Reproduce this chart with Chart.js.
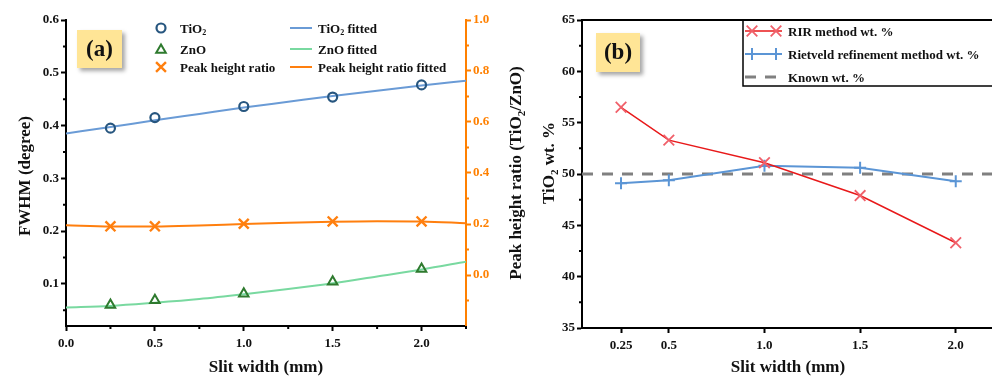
<!DOCTYPE html>
<html><head><meta charset="utf-8">
<script src="https://cdn.jsdelivr.net/npm/chart.js@4.4.0/dist/chart.umd.min.js"></script>
<style>
html,body{margin:0;padding:0;background:#fff;width:992px;height:376px;overflow:hidden;position:relative}
canvas{position:absolute;top:0}
#ca{left:0}
#cb{left:530px}
</style></head><body>
<canvas id="ca" width="530" height="376"></canvas>
<canvas id="cb" width="480" height="376"></canvas>
<script>
// ---------- data: panel (a) ----------
const slitWidth = [0.25, 0.5, 1.0, 1.5, 2.0];
const tio2Fwhm = [0.395, 0.415, 0.436, 0.454, 0.477];
const znoFwhm = [0.060, 0.069, 0.081, 0.104, 0.128];
const peakRatio = [0.191, 0.191, 0.201, 0.210, 0.210];
const fitSlit = [0, 0.25, 0.5, 0.75, 1.0, 1.25, 1.5, 1.75, 2.0, 2.25];
const tio2Fit = [0.385, 0.397, 0.410, 0.422, 0.434, 0.445, 0.456, 0.466, 0.476, 0.485];
const znoFit = [0.055, 0.058, 0.064, 0.071, 0.080, 0.090, 0.101, 0.114, 0.127, 0.142];
const ratioFit = [0.195, 0.190, 0.190, 0.194, 0.200, 0.205, 0.209, 0.211, 0.210, 0.203];
const aXTicks = [0, 0.5, 1.0, 1.5, 2.0];
const aXMinor = [0.25, 0.75, 1.25, 1.75, 2.25];
const aYTicks = [0.1, 0.2, 0.3, 0.4, 0.5, 0.6];
const aYMinor = [0.05, 0.15, 0.25, 0.35, 0.45, 0.55];
const aY2Ticks = [0.0, 0.2, 0.4, 0.6, 0.8, 1.0];
const aY2Minor = [-0.1, 0.1, 0.3, 0.5, 0.7, 0.9];

// ---------- data: panel (b) ----------
const bSlit = [0.25, 0.5, 1.0, 1.5, 2.0];
const rirWt = [56.5, 53.3, 51.1, 47.9, 43.3];
const rietveldWt = [49.1, 49.4, 50.8, 50.6, 49.3];
const knownWt = 50;
const bXRange = [0.046, 2.2];
const bXTicks = [0.25, 0.5, 1.0, 1.5, 2.0];
const bXLabels = ['0.25', '0.5', '1.0', '1.5', '2.0'];
const bYTicks = [35, 40, 45, 50, 55, 60, 65];
const bYMinor = [37.5, 42.5, 47.5, 52.5, 57.5, 62.5];

const FONT = "'Liberation Serif', 'Times New Roman', serif";
const ORANGE = '#ff7f0e';
const AXIS_ORANGE = '#ff8000';

const pts = (xs, ys) => xs.map((x, i) => ({x, y: ys[i]}));

function richParts(str){
  const parts=[]; const re=/\{([^}]*)\}/g; let last=0, m;
  while((m=re.exec(str))){ if(m.index>last) parts.push({t:str.slice(last,m.index),sub:false}); parts.push({t:m[1],sub:true}); last=re.lastIndex; }
  if(last<str.length) parts.push({t:str.slice(last),sub:false});
  return parts;
}
function drawRich(ctx, str, x, y, size, color, align){
  const parts = richParts(str);
  const fBig = `bold ${size}px ${FONT}`, fSub = `bold ${Math.round(size*0.65)}px ${FONT}`;
  let w=0; parts.forEach(p=>{ctx.font=p.sub?fSub:fBig; p.w=ctx.measureText(p.t).width; w+=p.w;});
  let cx = align==='center' ? x-w/2 : x;
  ctx.fillStyle=color; ctx.textBaseline='alphabetic'; ctx.textAlign='left';
  parts.forEach(p=>{ctx.font=p.sub?fSub:fBig; ctx.fillText(p.t, cx, y + (p.sub? size*0.22:0)); cx+=p.w;});
}
function drawRotRich(ctx, str, x, y, size, color){
  ctx.save(); ctx.translate(x,y); ctx.rotate(-Math.PI/2);
  drawRich(ctx, str, 0, size*0.35, size, color, 'center'); ctx.restore();
}
function marker(ctx, style, x, y, r, color, lw){
  ctx.save(); ctx.strokeStyle=color; ctx.lineWidth=lw; ctx.beginPath();
  if(style==='circle'){ ctx.arc(x,y,r,0,Math.PI*2); }
  else if(style==='triangle'){ ctx.moveTo(x,y-r); ctx.lineTo(x+r*0.87,y+r*0.5); ctx.lineTo(x-r*0.87,y+r*0.5); ctx.closePath(); }
  else if(style==='crossRot'){ const d=r*0.707; ctx.moveTo(x-d,y-d); ctx.lineTo(x+d,y+d); ctx.moveTo(x+d,y-d); ctx.lineTo(x-d,y+d); }
  else if(style==='cross'){ ctx.moveTo(x-r,y); ctx.lineTo(x+r,y); ctx.moveTo(x,y-r); ctx.lineTo(x,y+r); }
  ctx.stroke(); ctx.restore();
}
function labelBox(ctx, x, y, w, h, text){
  ctx.save();
  ctx.shadowColor='rgba(0,0,0,0.35)'; ctx.shadowBlur=4; ctx.shadowOffsetX=3; ctx.shadowOffsetY=3;
  ctx.fillStyle='#ffe596'; ctx.fillRect(x,y,w,h); ctx.restore();
  ctx.save(); ctx.fillStyle='#111'; ctx.font=`bold 23px ${FONT}`; ctx.textAlign='center'; ctx.textBaseline='middle';
  ctx.fillText(text, x+w/2, y+h/2+1); ctx.restore();
}

const minorTicks = {
  id:'minorTicks',
  afterDraw(chart, args, opts){
    const ctx=chart.ctx, ca=chart.chartArea;
    (opts.list||[]).forEach(item=>{
      const s=chart.scales[item.id];
      ctx.save(); ctx.strokeStyle=item.color; ctx.lineWidth=2; ctx.beginPath();
      item.values.forEach(v=>{
        const p=s.getPixelForValue(v);
        if(s.position==='bottom'){ ctx.moveTo(p,ca.bottom); ctx.lineTo(p,ca.bottom+3); }
        else if(s.position==='left'){ ctx.moveTo(ca.left,p); ctx.lineTo(ca.left-3,p); }
        else { ctx.moveTo(ca.right,p); ctx.lineTo(ca.right+3,p); }
      });
      ctx.stroke(); ctx.restore();
    });
  }
};

const tickFont = {family: FONT, weight: 'bold', size: 13};
const setTicks = arr => (s => { s.ticks = arr.map(v => ({value: v})); });
const gridOpts = color => ({display:true, drawOnChartArea:false, drawTicks:true, tickLength:5, tickWidth:2, tickColor:color, color:color});

// ---------------- Chart (a) ----------------
const decorA = {
  id:'decorA',
  afterDraw(chart){
    const ctx=chart.ctx;
    labelBox(ctx, 77, 30, 45, 38, '(a)');
    const rows=[28, 49, 67];
    const c1=[['circle','#27567f','TiO{2}',4.5,2.2],['triangle','#2e7a2e','ZnO',5.5,2],['crossRot',ORANGE,'Peak height ratio',7,2.4]];
    c1.forEach((e,i)=>{ marker(ctx,e[0],161,rows[i]+(e[0]==='triangle'?1:0),e[3],e[1],e[4]); drawRich(ctx,e[2],180,rows[i]+4.5,13,'#111','left'); });
    const c2=[['#6a9bd6','TiO{2} fitted'],['#79d9a0','ZnO fitted'],[ORANGE,'Peak height ratio fitted']];
    c2.forEach((e,i)=>{ ctx.save(); ctx.strokeStyle=e[0]; ctx.lineWidth=2; ctx.beginPath(); ctx.moveTo(290,rows[i]); ctx.lineTo(312,rows[i]); ctx.stroke(); ctx.restore(); drawRich(ctx,e[1],318,rows[i]+4.5,13,'#111','left'); });
    drawRotRich(ctx,'FWHM (degree)',24,176,17,'#111');
    drawRotRich(ctx,'Peak height ratio (TiO{2}/ZnO)',515,173,17,'#111');
    drawRich(ctx,'Slit width (mm)',266,372,17,'#111','center');
  }
};

new Chart(document.getElementById('ca'), {
  type:'line',
  data:{datasets:[
    {label:'TiO2', data:pts(slitWidth,tio2Fwhm), yAxisID:'y', showLine:false, pointStyle:'circle', pointRadius:4.5, borderColor:'#27567f', backgroundColor:'rgba(0,0,0,0)', pointBorderWidth:2.2},
    {label:'ZnO', data:pts(slitWidth,znoFwhm), yAxisID:'y', showLine:false, pointStyle:'triangle', pointRadius:5.5, borderColor:'#2e7a2e', backgroundColor:'rgba(0,0,0,0)', pointBorderWidth:2},
    {label:'Peak height ratio', data:pts(slitWidth,peakRatio), yAxisID:'y2', showLine:false, pointStyle:'crossRot', pointRadius:7, borderColor:ORANGE, pointBorderWidth:2.4},
    {label:'TiO2 fitted', data:pts(fitSlit,tio2Fit), yAxisID:'y', borderColor:'#6a9bd6', borderWidth:2, pointRadius:0, cubicInterpolationMode:'monotone', order:5},
    {label:'ZnO fitted', data:pts(fitSlit,znoFit), yAxisID:'y', borderColor:'#79d9a0', borderWidth:2, pointRadius:0, cubicInterpolationMode:'monotone', order:5},
    {label:'Peak height ratio fitted', data:pts(fitSlit,ratioFit), yAxisID:'y2', borderColor:ORANGE, borderWidth:2, pointRadius:0, cubicInterpolationMode:'monotone', order:5}
  ]},
  options:{
    responsive:false, animation:false, devicePixelRatio:1,
    layout:{padding:{top:20,left:0,right:0,bottom:0}},
    plugins:{legend:{display:false}, tooltip:{enabled:false},
      minorTicks:{list:[{id:'x',values:aXMinor,color:'#000'},{id:'y',values:aYMinor,color:'#000'},{id:'y2',values:aY2Minor,color:AXIS_ORANGE}]}},
    scales:{
      x:{type:'linear', min:0, max:2.25, afterBuildTicks:setTicks(aXTicks), afterFit:s=>{s.height=50;},
         grid:gridOpts('#000'), border:{display:true,color:'#000',width:2},
         ticks:{font:tickFont,color:'#111',padding:5,autoSkip:false,maxRotation:0,callback:v=>Number(v).toFixed(1)}},
      y:{type:'linear', position:'left', min:0.02, max:0.6, afterBuildTicks:setTicks(aYTicks), afterFit:s=>{s.width=66;},
         grid:gridOpts('#000'), border:{display:true,color:'#000',width:2},
         ticks:{font:tickFont,color:'#111',padding:2,autoSkip:false,callback:v=>Number(v).toFixed(1)}},
      y2:{type:'linear', position:'right', min:-0.2, max:1.0, afterBuildTicks:setTicks(aY2Ticks), afterFit:s=>{s.width=64;},
         grid:gridOpts(AXIS_ORANGE), border:{display:true,color:AXIS_ORANGE,width:2},
         ticks:{font:tickFont,color:AXIS_ORANGE,padding:2,autoSkip:false,callback:v=>Number(v).toFixed(1)}}
    }
  },
  plugins:[minorTicks, decorA]
});

// ---------------- Chart (b) ----------------
const decorB = {
  id:'decorB',
  afterDraw(chart){
    const ctx=chart.ctx, ca=chart.chartArea;
    ctx.save(); ctx.strokeStyle='#000'; ctx.lineWidth=2; ctx.beginPath(); ctx.moveTo(ca.left,ca.top); ctx.lineTo(chart.width,ca.top); ctx.stroke(); ctx.restore();
    labelBox(ctx, 66, 33, 44, 39, '(b)');
    ctx.save(); ctx.strokeStyle='#000'; ctx.lineWidth=1.5; ctx.strokeRect(213, ca.top, 300, 66); ctx.restore();
    const rows=[31,54,77];
    ctx.save(); ctx.strokeStyle='#e8191a'; ctx.lineWidth=1.5; ctx.beginPath(); ctx.moveTo(215,rows[0]); ctx.lineTo(252,rows[0]); ctx.stroke(); ctx.restore();
    marker(ctx,'crossRot',222,rows[0],7.5,'#f0606a',1.8); marker(ctx,'crossRot',246,rows[0],7.5,'#f0606a',1.8);
    drawRich(ctx,'RIR method wt. %',258,rows[0]+4.5,13,'#111','left');
    ctx.save(); ctx.strokeStyle='#5b95d5'; ctx.lineWidth=2; ctx.beginPath(); ctx.moveTo(215,rows[1]); ctx.lineTo(252,rows[1]); ctx.stroke(); ctx.restore();
    marker(ctx,'cross',222,rows[1],6,'#5b95d5',2); marker(ctx,'cross',246,rows[1],6,'#5b95d5',2);
    drawRich(ctx,'Rietveld refinement method wt. %',258,rows[1]+4.5,13,'#111','left');
    ctx.save(); ctx.strokeStyle='#808080'; ctx.lineWidth=3; ctx.setLineDash([11,9]); ctx.beginPath(); ctx.moveTo(215,rows[2]); ctx.lineTo(252,rows[2]); ctx.stroke(); ctx.restore();
    drawRich(ctx,'Known wt. %',258,rows[2]+4.5,13,'#111','left');
    drawRotRich(ctx,'TiO{2} wt. %',18,163,17,'#111');
    drawRich(ctx,'Slit width (mm)',258,372,17,'#111','center');
  }
};

new Chart(document.getElementById('cb'), {
  type:'line',
  data:{datasets:[
    {label:'RIR method wt. %', data:pts(bSlit,rirWt), borderColor:'#e8191a', borderWidth:1.5, pointStyle:'crossRot', pointRadius:7.5, pointBorderColor:'#f0606a', pointBorderWidth:1.8, tension:0},
    {label:'Rietveld refinement method wt. %', data:pts(bSlit,rietveldWt), borderColor:'#5b95d5', borderWidth:2, pointStyle:'cross', pointRadius:6, pointBorderColor:'#5b95d5', pointBorderWidth:2, tension:0},
    {label:'Known wt. %', data:pts(bXRange,[knownWt,knownWt]), borderColor:'#808080', borderWidth:3, borderDash:[11,9], pointRadius:0, order:10}
  ]},
  options:{
    responsive:false, animation:false, devicePixelRatio:1,
    layout:{padding:{top:20,left:0,right:16,bottom:0}},
    plugins:{legend:{display:false}, tooltip:{enabled:false},
      minorTicks:{list:[{id:'y',values:bYMinor,color:'#000'}]}},
    scales:{
      x:{type:'linear', min:bXRange[0], max:bXRange[1], afterBuildTicks:setTicks(bXTicks), afterFit:s=>{s.height=48;},
         grid:gridOpts('#000'), border:{display:true,color:'#000',width:2},
         ticks:{font:tickFont,color:'#111',padding:5,autoSkip:false,maxRotation:0,callback:(v)=>bXLabels[bXTicks.indexOf(Number(v))] ?? String(v)}},
      y:{type:'linear', position:'left', min:35, max:65, afterBuildTicks:setTicks(bYTicks), afterFit:s=>{s.width=52;},
         grid:gridOpts('#000'), border:{display:true,color:'#000',width:2},
         ticks:{font:tickFont,color:'#111',padding:2,autoSkip:false,callback:v=>String(v)}}
    }
  },
  plugins:[minorTicks, decorB]
});
</script>
</body></html>
